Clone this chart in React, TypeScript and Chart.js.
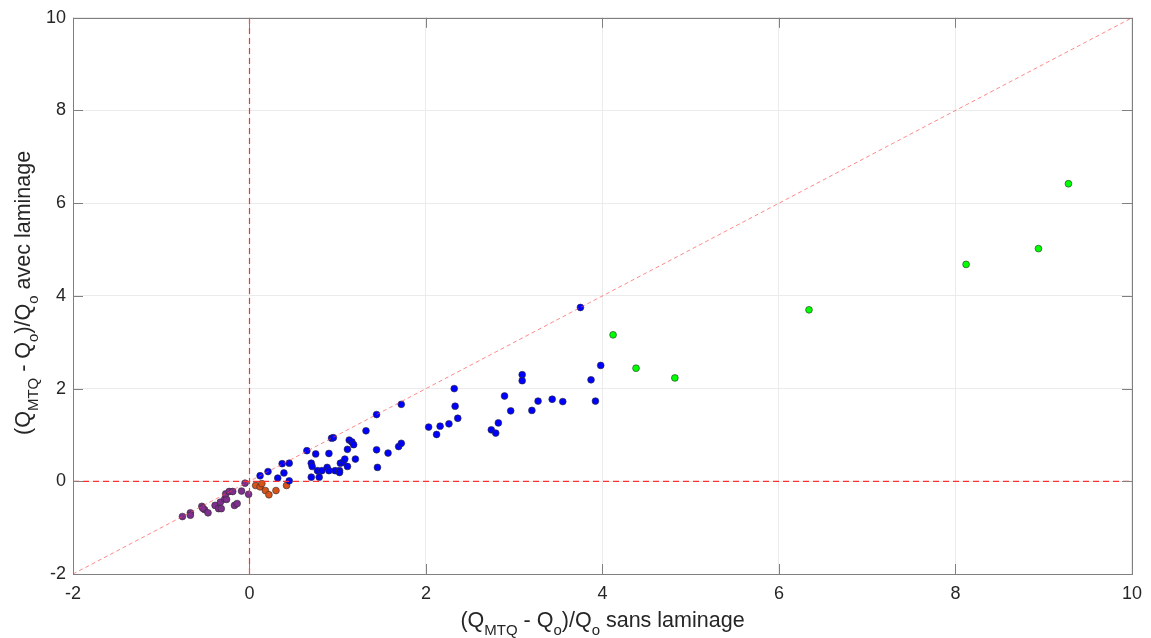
import React, { useEffect, useRef } from "react";
import { Chart, registerables } from "chart.js";

Chart.register(...registerables);

// Relative flow differences: without lamination (x) vs with lamination (y)
const blueX = [0.12, 0.21, 0.32, 0.37, 0.45, 0.39, 0.45, 0.65, 0.75, 0.70, 0.71, 0.70, 0.79, 0.77, 0.82, 0.88, 0.90, 0.90, 0.93, 0.95, 0.97, 1.02, 1.03, 1.06, 1.08, 1.11, 1.02, 1.11, 1.13, 1.16, 1.18, 1.20, 1.32, 1.44, 1.44, 1.45, 1.57, 1.69, 1.72, 1.72, 2.03, 2.12, 2.16, 2.26, 2.32, 2.33, 2.36, 2.74, 2.79, 2.82, 2.89, 2.96, 3.09, 3.09, 3.20, 3.27, 3.43, 3.55, 3.75, 3.87, 3.92, 3.98];
const blueY = [0.12, 0.21, 0.07, 0.38, 0.39, 0.18, 0.01, 0.66, 0.59, 0.39, 0.32, 0.09, 0.09, 0.23, 0.23, 0.30, 0.23, 0.60, 0.93, 0.94, 0.23, 0.23, 0.39, 0.41, 0.48, 0.32, 0.19, 0.69, 0.89, 0.85, 0.79, 0.48, 1.09, 1.44, 0.68, 0.30, 0.61, 0.75, 0.82, 1.66, 1.17, 1.01, 1.19, 1.24, 2.00, 1.62, 1.36, 1.11, 1.04, 1.26, 1.84, 1.52, 2.30, 2.17, 1.53, 1.73, 1.77, 1.72, 3.75, 2.19, 1.73, 2.50];

const orangeX = [0.07, 0.12, 0.14, 0.18, 0.22, 0.30, 0.42];
const orangeY = [-0.09, -0.12, -0.05, -0.20, -0.29, -0.20, -0.09];

const purpleX = [-0.76, -0.67, -0.67, -0.54, -0.51, -0.53, -0.47, -0.39, -0.35, -0.32, -0.33, -0.28, -0.26, -0.27, -0.23, -0.19, -0.17, -0.14, -0.09, -0.05, -0.01];
const purpleY = [-0.76, -0.68, -0.73, -0.54, -0.61, -0.58, -0.68, -0.52, -0.59, -0.59, -0.45, -0.38, -0.39, -0.27, -0.22, -0.22, -0.52, -0.48, -0.21, -0.04, -0.28];

const greenX = [4.12, 4.38, 4.82, 6.34, 8.12, 8.94, 9.28];
const greenY = [3.16, 2.44, 2.23, 3.70, 4.68, 5.02, 6.42];

const axisMin = -2;
const axisMax = 10;
const tickStep = 2;

const FONT = "'Liberation Sans', Arial, Helvetica, sans-serif";
const AXIS_COLOR = "#808080";
const TEXT_COLOR = "#262626";

type Seg = { t: string; sub?: boolean };
const xTitle: Seg[] = [
  { t: "(Q" }, { t: "MTQ", sub: true }, { t: " - Q" }, { t: "o", sub: true },
  { t: ")/Q" }, { t: "o", sub: true }, { t: " sans laminage" },
];
const yTitle: Seg[] = [
  { t: "(Q" }, { t: "MTQ", sub: true }, { t: " - Q" }, { t: "o", sub: true },
  { t: ")/Q" }, { t: "o", sub: true }, { t: " avec laminage" },
];

const pts = (xs: number[], ys: number[]) => xs.map((x, i) => ({ x, y: ys[i] }));

function drawRich(ctx: CanvasRenderingContext2D, segs: Seg[]) {
  const main = `21.5px ${FONT}`;
  const sub = `15px ${FONT}`;
  let w = 0;
  for (const s of segs) {
    ctx.font = s.sub ? sub : main;
    w += ctx.measureText(s.t).width;
  }
  let x = -w / 2;
  ctx.textBaseline = "alphabetic";
  ctx.textAlign = "left";
  for (const s of segs) {
    ctx.font = s.sub ? sub : main;
    ctx.fillText(s.t, x, s.sub ? 8 : 0);
    x += ctx.measureText(s.t).width;
  }
}

const framePlugin = {
  id: "frame",
  afterDatasetsDraw(chart: any) {
    const { ctx, chartArea: a, scales } = chart;
    ctx.save();
    ctx.strokeStyle = AXIS_COLOR;
    ctx.lineWidth = 1;
    const tl = 10;
    ctx.beginPath();
    for (let v = axisMin; v <= axisMax; v += tickStep) {
      const px = Math.round(scales.x.getPixelForValue(v)) + 0.5;
      ctx.moveTo(px, a.bottom);
      ctx.lineTo(px, a.bottom - tl);
      ctx.moveTo(px, a.top);
      ctx.lineTo(px, a.top + tl);
      const py = Math.round(scales.y.getPixelForValue(v)) + 0.5;
      ctx.moveTo(a.left, py);
      ctx.lineTo(a.left + tl, py);
      ctx.moveTo(a.right, py);
      ctx.lineTo(a.right - tl, py);
    }
    ctx.stroke();
    ctx.strokeRect(Math.round(a.left) + 0.5, Math.round(a.top) + 0.5, Math.round(a.right - a.left), Math.round(a.bottom - a.top));
    ctx.restore();
  },
  afterDraw(chart: any) {
    const { ctx, chartArea: a } = chart;
    ctx.save();
    ctx.fillStyle = TEXT_COLOR;
    ctx.translate((a.left + a.right) / 2, 627);
    drawRich(ctx, xTitle);
    ctx.restore();
    ctx.save();
    ctx.fillStyle = TEXT_COLOR;
    ctx.translate(30, (a.top + a.bottom) / 2 - 3);
    ctx.rotate(-Math.PI / 2);
    drawRich(ctx, yTitle);
    ctx.restore();
  },
};

export default function App() {
  const ref = useRef<HTMLCanvasElement | null>(null);

  useEffect(() => {
    document.body.style.margin = "0";
    const canvas = ref.current;
    if (!canvas) return;
    const marker = (fill: string, data: { x: number; y: number }[]) => ({
      type: "scatter" as const,
      data,
      backgroundColor: fill,
      borderColor: "#2b2b2b",
      borderWidth: 0.6,
      pointRadius: 3.4,
      showLine: false,
      order: 2,
    });
    const refLine = (data: { x: number; y: number }[], color: string, width: number, dash: number[]) => ({
      type: "line" as const,
      data,
      borderColor: color,
      backgroundColor: color,
      borderWidth: width,
      borderDash: dash,
      pointRadius: 0,
      fill: false,
      tension: 0,
      order: 0,
    });
    const chart = new Chart(canvas, {
      type: "scatter",
      data: {
        datasets: [
          marker("#0000ff", pts(blueX, blueY)),
          marker("#d95319", pts(orangeX, orangeY)),
          marker("#7e2f8e", pts(purpleX, purpleY)),
          marker("#00ff00", pts(greenX, greenY)),
          refLine([{ x: axisMin, y: axisMin }, { x: axisMax, y: axisMax }], "rgba(255,70,70,0.8)", 0.8, [4, 3]),
          refLine([{ x: axisMin, y: 0 }, { x: axisMax, y: 0 }], "#ff3030", 1.2, [6, 4]),
          refLine([{ x: 0, y: axisMin }, { x: 0, y: axisMax }], "#ff3030", 1.2, [6, 4]),
        ] as any,
      },
      options: {
        animation: false,
        responsive: false,
        events: [],
        layout: { padding: { top: 14, right: 17, left: 0, bottom: 0 } },
        plugins: { legend: { display: false }, tooltip: { enabled: false } },
        scales: {
          x: {
            type: "linear",
            min: axisMin,
            max: axisMax,
            ticks: { stepSize: tickStep, color: TEXT_COLOR, font: { family: FONT, size: 18 }, padding: 9 },
            grid: { color: "#ebebeb", drawTicks: false },
            border: { display: false },
            afterFit: (s: any) => { s.height = 64; },
          },
          y: {
            type: "linear",
            min: axisMin,
            max: axisMax,
            ticks: { stepSize: tickStep, color: TEXT_COLOR, font: { family: FONT, size: 18 }, padding: 7 },
            grid: { color: "#ebebeb", drawTicks: false },
            border: { display: false },
            afterFit: (s: any) => { s.width = 73; },
          },
        },
      },
      plugins: [framePlugin],
    });
    return () => chart.destroy();
  }, []);

  return <canvas ref={ref} width={1151} height={638} style={{ display: "block" }} />;
}
